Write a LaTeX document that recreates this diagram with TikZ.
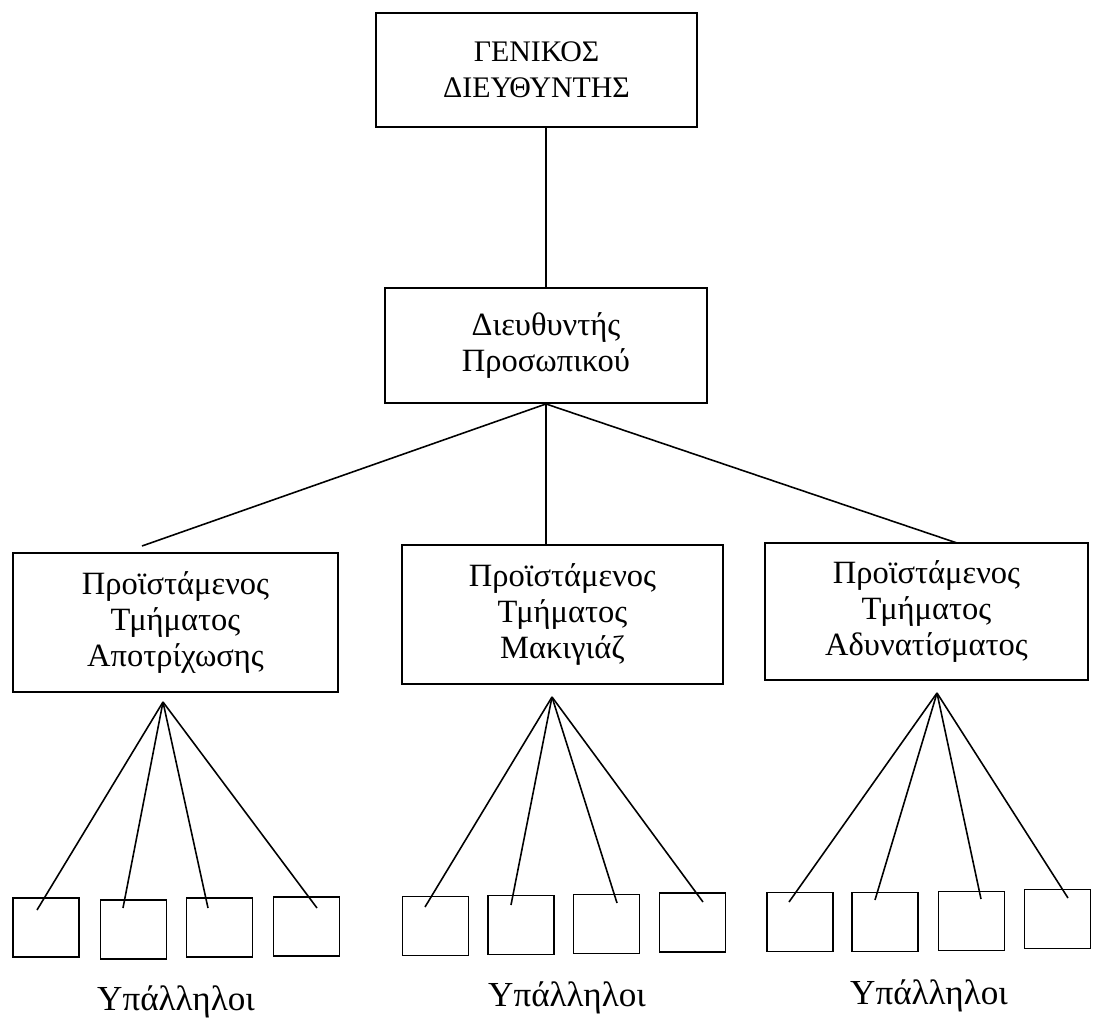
\documentclass[tikz,border=0pt]{standalone}
\usepackage{fontspec}
\setmainfont{Liberation Serif}
\begin{document}
\begin{tikzpicture}[x=0.02cm,y=-0.02cm,
  box/.style={draw,line width=1.1pt,align=center,inner sep=0pt,font=\fontsize{18.5}{20.5}\selectfont},
  capbox/.style={box,font=\fontsize{17}{20.5}\selectfont},
  emp/.style={draw,line width=1.1pt,minimum width=1.32cm,minimum height=1.18cm,inner sep=0pt},
  conn/.style={line width=0.9pt},
  lbl/.style={font=\fontsize{20}{22}\selectfont,inner sep=0pt}]
\useasboundingbox (0,0) rectangle (1093,1021);

% main boxes
\node[capbox,minimum width=6.42cm,minimum height=2.28cm] (gd) at (536.5,70) {ΓΕΝΙΚΟΣ\\ΔΙΕΥΘΥΝΤΗΣ};
\node[box,minimum width=6.44cm,minimum height=2.30cm] (pd) at (546,345.5) {Διευθυντής\\Προσωπικού};
\node[box,minimum width=6.50cm,minimum height=2.78cm] (t1) at (175.5,622.5) {Προϊστάμενος\\Τμήματος\\Αποτρίχωσης};
\node[box,minimum width=6.42cm,minimum height=2.78cm] (t2) at (562.5,614.5) {Προϊστάμενος\\Τμήματος\\Μακιγιάζ};
\node[box,minimum width=6.46cm,minimum height=2.74cm] (t3) at (926.5,611.5) {Προϊστάμενος\\Τμήματος\\Αδυνατίσματος};

% employee boxes
\node[emp] (b11) at (46,927.5) {};
\node[emp] (b12) at (133.5,929.5) {};
\node[emp] (b13) at (219.5,927.5) {};
\node[emp] (b14) at (306.5,926.5) {};
\node[emp] (b21) at (435.5,926) {};
\node[emp] (b22) at (521,925) {};
\node[emp] (b23) at (606.5,924) {};
\node[emp] (b24) at (692.5,922.5) {};
\node[emp] (b31) at (800,922) {};
\node[emp] (b32) at (885,922) {};
\node[emp] (b33) at (971.5,921) {};
\node[emp] (b34) at (1057.5,919) {};

% labels
\node[lbl] (l1) at (176,1002) {Υπάλληλοι};
\node[lbl] (l2) at (567,998) {Υπάλληλοι};
\node[lbl] (l3) at (929,996) {Υπάλληλοι};

% connector end points
\coordinate (la) at (142,546);
\coordinate (ra) at (957,543);
\coordinate (a1) at (163,702);
\coordinate (a2) at (552,697);
\coordinate (a3) at (937,693);
\coordinate (e11) at (37,910);
\coordinate (e12) at (123,908);
\coordinate (e13) at (208,908);
\coordinate (e14) at (317,908);
\coordinate (e21) at (425,907);
\coordinate (e22) at (511,905);
\coordinate (e23) at (617,903);
\coordinate (e24) at (703,902);
\coordinate (e31) at (789,902);
\coordinate (e32) at (875,900);
\coordinate (e33) at (981,899);
\coordinate (e34) at (1068,898);

% connectors
\draw[conn] (gd.south -| pd.north) -- (pd.north);
\draw[conn] (pd.south) -- (la);
\draw[conn] (pd.south) -- (pd.south |- t2.north);
\draw[conn] (pd.south) -- (ra);
\foreach \e in {e11,e12,e13,e14} \draw[conn] (a1) -- (\e);
\foreach \e in {e21,e22,e23,e24} \draw[conn] (a2) -- (\e);
\foreach \e in {e31,e32,e33,e34} \draw[conn] (a3) -- (\e);
\end{tikzpicture}
\end{document}
